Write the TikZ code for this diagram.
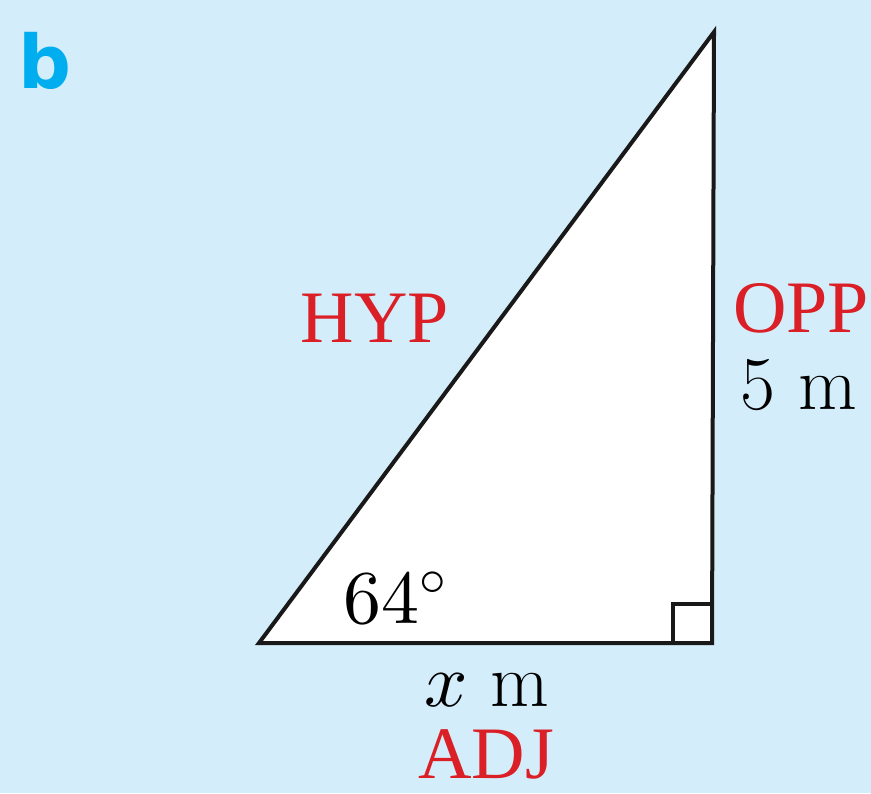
\documentclass[tikz,border=0pt]{standalone}
\usepackage{fontspec}
\usepackage{tikz}
\usetikzlibrary{positioning}
\DeclareFontShape{OML}{cmm}{m}{it}{<->cmmi10}{}
\DeclareFontShape{OMS}{cmsy}{m}{n}{<->cmsy10}{}
\DeclareFontShape{OT1}{cmr}{m}{n}{<->cmr10}{}
\newfontfamily\labelfont{Liberation Serif}
\newfontfamily\partfont{DejaVu Sans}
\definecolor{sheetbg}{RGB}{212,237,250}
\definecolor{partcol}{HTML}{00AEEF}
\definecolor{sidered}{HTML}{DA1F26}
\tikzset{
  sidelbl/.style={inner sep=0pt, anchor=base, text=sidered, font=\labelfont\fontsize{37}{40}\selectfont},
  measlbl/.style={inner sep=0pt, anchor=base, font=\fontsize{38}{42}\selectfont},
  edge/.style={line width=2pt, line join=miter, draw=black!90}
}

\begin{document}
\begin{tikzpicture}[x=0.5pt,y=-0.5pt]
  \fill[sheetbg] (0,0) rectangle (871,793);
  \useasboundingbox (0,0) rectangle (871,793);
  \node[inner sep=0pt, text=partcol, font=\partfont\bfseries\fontsize{37}{40}\selectfont] (part) at (45,61) {b};
  % triangle
  \coordinate (A) at (259,643);
  \coordinate (B) at (712,643);
  \coordinate (C) at (714,32);
  \fill[white] (A) -- (B) -- (C) -- cycle;
  \draw[edge] (B) ++(-39,0) |- ++(39,-39);
  \draw[edge] (A) -- (B) -- (C) -- cycle;
  % labels
  \node[sidelbl] (hyp) at (375,342) {HYP};
  \node[sidelbl] (opp) at (801,332) {OPP};
  \node[measlbl] (oppval) at (799,409) {5 m};
  \node[measlbl] (angle) at (395,623) {$64^\circ$};
  \node[measlbl] (adjval) at (487,706) {$x$ m};
  \node[sidelbl] (adj) at (486,778) {ADJ};
\end{tikzpicture}
\end{document}
